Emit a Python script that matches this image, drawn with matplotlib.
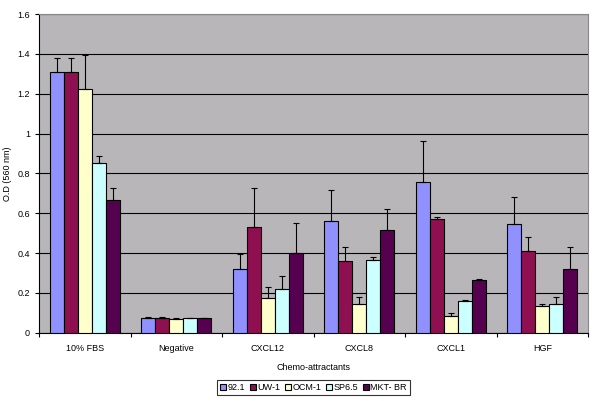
import numpy as np
import matplotlib
matplotlib.use("Agg")
import matplotlib.pyplot as plt

plt.rcParams['font.family'] = ['Liberation Sans', 'DejaVu Sans']

categories = ['10% FBS', 'Negative', 'CXCL12', 'CXCL8', 'CXCL1', 'HGF']
series = ['92.1', 'UW-1', 'OCM-1', 'SP6.5', 'MKT- BR']
colors = ['#9090FF', '#8E1050', '#FFFFCC', '#CCFFFF', '#560050']

v_921 = [1.31, 0.073, 0.32, 0.56, 0.755, 0.545]
v_uw1 = [1.31, 0.073, 0.53, 0.36, 0.57, 0.41]
v_ocm1 = [1.225, 0.068, 0.175, 0.145, 0.085, 0.135]
v_sp65 = [0.85, 0.072, 0.22, 0.365, 0.16, 0.145]
v_mkt = [0.665, 0.072, 0.40, 0.515, 0.265, 0.32]

e_921 = [0.07, 0.004, 0.075, 0.155, 0.21, 0.135]
e_uw1 = [0.07, 0.004, 0.195, 0.07, 0.01, 0.07]
e_ocm1 = [0.17, 0.004, 0.055, 0.035, 0.015, 0.008]
e_sp65 = [0.035, 0.004, 0.065, 0.015, 0.003, 0.035]
e_mkt = [0.06, 0.004, 0.15, 0.105, 0.005, 0.11]

values = [v_921, v_uw1, v_ocm1, v_sp65, v_mkt]
errors = [e_921, e_uw1, e_ocm1, e_sp65, e_mkt]

fig = plt.figure(figsize=(6, 4.01), dpi=100)
ax = fig.add_axes([0.065, 0.170, 0.915, 0.795])
ax.set_facecolor('#B8B6B9')

x = np.arange(len(categories))
w = 0.153
for i, (vals, errs, c, name) in enumerate(zip(values, errors, colors, series)):
    pos = x + (i - 2) * w
    ax.bar(pos, vals, w, color=c, edgecolor='black', linewidth=0.8, label=name, zorder=3)
    ax.errorbar(pos, vals, yerr=[np.zeros(len(errs)), errs], fmt='none',
                ecolor='black', elinewidth=0.8, capsize=2, capthick=0.8, zorder=4)

ax.set_ylim(0, 1.6)
ax.set_xlim(-0.5, len(categories) - 0.5)
ax.set_yticks(np.arange(0, 1.61, 0.2))
ax.set_yticklabels(['0', '0.2', '0.4', '0.6', '0.8', '1', '1.2', '1.4', '1.6'])
ax.yaxis.grid(True, color='black', linewidth=0.8, zorder=0)
ax.set_axisbelow(True)

ax.set_xticks(x)
ax.set_xticklabels(categories)
ax.set_xticks(np.arange(-0.5, len(categories), 1), minor=True)
ax.tick_params(axis='x', which='major', length=0, pad=8, labelsize=6.5)
ax.tick_params(axis='x', which='minor', length=3, width=0.8, direction='out')
ax.tick_params(axis='y', length=3, width=0.8, direction='out', labelsize=6.5)

for s in ['top', 'right']:
    ax.spines[s].set_color('#888888')
    ax.spines[s].set_linewidth(0.8)
for s in ['left', 'bottom']:
    ax.spines[s].set_color('black')
    ax.spines[s].set_linewidth(0.8)

ax.set_xlabel('Chemo-attractants', fontsize=6.5, labelpad=7)
ax.set_ylabel('O.D (560 nm)', fontsize=6.5, labelpad=4)

leg = ax.legend(loc='upper center', bbox_to_anchor=(0.5, -0.135), ncol=5,
                fontsize=6.5, frameon=True, fancybox=False, edgecolor='black',
                handlelength=0.7, handleheight=0.7, handletextpad=0.15,
                columnspacing=0.5, borderpad=0.3)
leg.get_frame().set_linewidth(0.8)

fig.savefig('out.png', dpi=100)
